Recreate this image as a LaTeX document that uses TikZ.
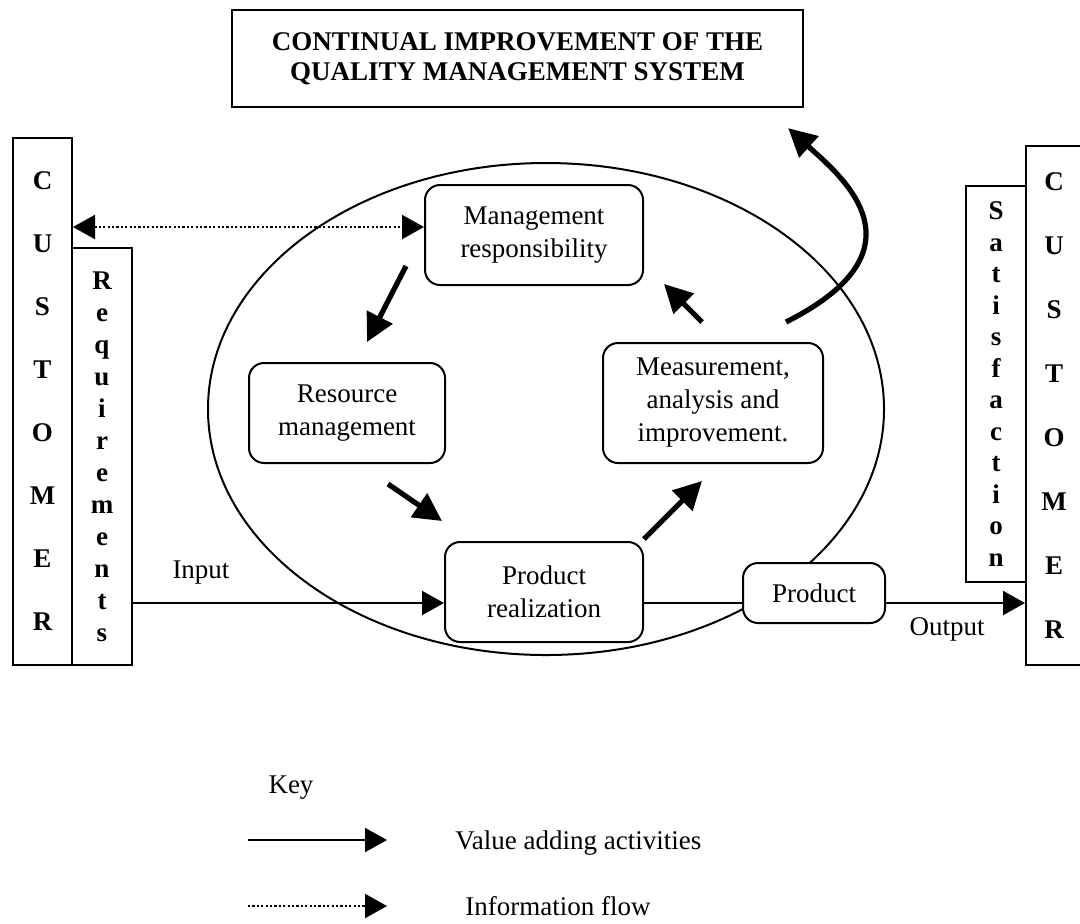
\documentclass[tikz,border=0pt]{standalone}
\usepackage{fontspec}
\setmainfont{Liberation Serif}
\usetikzlibrary{positioning,calc,arrows.meta}
\def\bigloop{(546,409) ellipse (338 and 246)}
\tikzset{
stage/.style={draw, fill=white, rounded corners=7.5pt, line width=1pt, align=center, inner sep=0pt},
sidebox/.style={draw, line width=1pt, align=center, inner sep=0pt, font={\bfseries\fontsize{13.5}{#1}\selectfont}},
valflow/.style={line width=2.6pt, -{Triangle[length=14pt,width=14pt]}},
mainflow/.style={line width=1pt, -{Triangle[length=11pt,width=12pt]}},
infoflow/.style={line width=1.1pt, dash pattern=on 1.1pt off 1.1pt}
}

\begin{document}
\begin{tikzpicture}[x=0.5pt, y=-0.5pt, font=\fontsize{13.5}{16.5}\selectfont]
	\useasboundingbox (0,0) rectangle (1080,923);
	\draw[line width=1pt] \bigloop;
	\node[draw, line width=1.2pt, minimum width=285.5pt, minimum height=48.5pt, align=center, font=\bfseries\fontsize{13.5}{15}\selectfont] (cqi) at (517.5,58.5) {CONTINUAL IMPROVEMENT OF THE\\QUALITY MANAGEMENT SYSTEM};
	\node[sidebox=31.5, minimum width=29.5pt, minimum height=263.5pt] (custin) at (42.5,401.5) {C\\U\\S\\T\\O\\M\\E\\R};
	\node[sidebox=16, minimum width=30pt, minimum height=208.5pt] (reqs) at (102,456.5) {R\\e\\q\\u\\i\\r\\e\\m\\e\\n\\t\\s};
	\node[sidebox=32, minimum width=28pt, minimum height=259.5pt] (custout) at (1054,405.5) {C\\U\\S\\T\\O\\M\\E\\R};
	\node[sidebox=15.75, minimum width=30pt, minimum height=198pt] (satis) at (996,384) {S\\a\\t\\i\\s\\f\\a\\c\\t\\i\\o\\n};
	\node[stage, minimum width=109pt, minimum height=50pt] (mgmt) at (534,235) {Management\\responsibility};
	\node[stage, minimum width=98pt, minimum height=50pt] (resource) at (347,413) {Resource\\management};
	\node[stage, minimum width=110pt, minimum height=60pt] (measure) at (713,403) {Measurement,\\analysis and\\improvement.};
	\node[stage, minimum width=99pt, minimum height=50pt] (prodreal) at (544,592) {Product\\realization};
	\node[stage, minimum width=71pt, minimum height=30pt] (product) at (814,593) {Product};
	\coordinate (flow) at (0,603);
	\coordinate (info) at (0,227);
	\draw[mainflow] (reqs.east |- flow) -- (prodreal.west |- flow);
	\draw[line width=1pt] (prodreal.east |- flow) -- (product.west |- flow);
	\draw[mainflow] (product.east |- flow) -- (custout.west |- flow);
	\node (inlabel) at (201,573) {Input};
	\node (outlabel) at (947,629) {Output};
	\draw[infoflow, {Triangle[length=11pt,width=12pt]}-{Triangle[length=11pt,width=12pt]}] (custin.east |- info) -- (mgmt.west |- info);
	\draw[valflow] ($(mgmt.south west)+(-18,-20)$) -- ($(resource.north east)+(-79,-20)$);
	\draw[valflow] ($(resource.south east)+(-58,20)$) -- ($(prodreal.north west)+(-2,-20)$);
	\draw[valflow] ($(prodreal.north east)+(0,-2)$) -- ($(measure.south west)+(100,17)$);
	\draw[valflow] ($(measure.north west)+(100,-20)$) -- ($(mgmt.south east)+(20,-2)$);
	\coordinate (qs) at ($(measure.north east)+(-38,-20)$);
	\coordinate (qe) at ($(cqi.south east)+(-16,20)$);
	\draw[valflow] (qs) .. controls ($(qs)+(145,-73)$) and ($(qe)+(53,48)$) .. (qe);
	\node (keyhead) at (291,788) {Key};
	\coordinate (k1a) at (248,840);
	\coordinate (k1b) at (387,840);
	\coordinate (k2a) at (248,906);
	\coordinate (k2b) at (387,906);
	\draw[mainflow] (k1a) -- (k1b);
	\draw[infoflow, -{Triangle[length=11pt,width=12pt]}] (k2a) -- (k2b);
	\node[anchor=west, inner sep=0pt] (keyval) at (455,843) {Value adding activities};
	\node[anchor=west, inner sep=0pt] (keyinfo) at (465,906) {Information flow};
\end{tikzpicture}
\end{document}
